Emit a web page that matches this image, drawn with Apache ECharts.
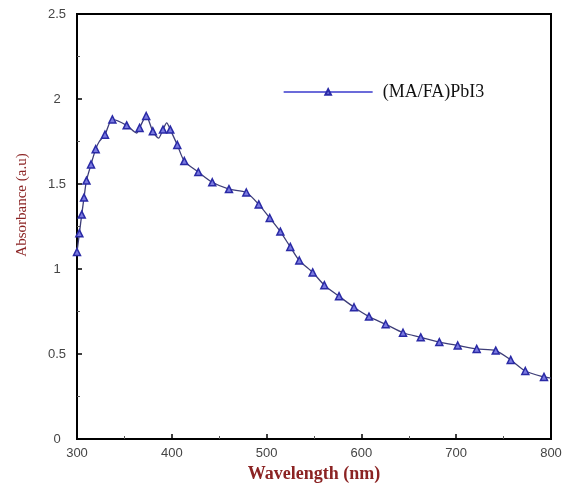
<!DOCTYPE html>
<html>
<head>
<meta charset="utf-8">
<script src="https://cdn.jsdelivr.net/npm/echarts@6/dist/echarts.min.js"></script>
<style>html,body{margin:0;padding:0;background:#fff;}#c{width:570px;height:484px;}</style>
</head>
<body>
<div id="c"></div>
<script>
// Marked data points (wavelength nm, absorbance a.u.)
var markWl = [300, 302.5, 305, 307.4, 310, 314.8, 319.7, 329.5, 337.3, 352.4, 366, 373, 380, 390.7, 398.4, 405.8, 413.2, 428, 442.7, 460.3, 478.6, 491.7, 503.3, 514.5, 525, 534.5, 548.6, 560.9, 576.4, 592.2, 608, 625.6, 643.9, 662.6, 682.2, 701.6, 721.6, 741.7, 757.5, 772.9, 792.6];
var markAbs = [1.10, 1.21, 1.32, 1.42, 1.52, 1.615, 1.705, 1.79, 1.88, 1.845, 1.83, 1.90, 1.81, 1.82, 1.82, 1.73, 1.635, 1.57, 1.51, 1.47, 1.45, 1.38, 1.30, 1.22, 1.13, 1.05, 0.98, 0.905, 0.84, 0.775, 0.72, 0.675, 0.625, 0.598, 0.57, 0.55, 0.53, 0.52, 0.465, 0.40, 0.365];
// Curve points between markers (no marker drawn)
var curveWl = [323.5, 362.9, 386, 394.6, 800];
var curveAbs = [1.75, 1.80, 1.77, 1.86, 0.358];
var seriesName = '(MA/FA)PbI3';
var xTitle = 'Wavelength (nm)';
var yTitle = 'Absorbance (a.u)';
var yTickLabels = ['0', '0.5', '1', '1.5', '2', '2.5'];
var xTickLabels = ['300', '400', '500', '600', '700', '800'];

var pts = [];
markWl.forEach(function (w, i) { pts.push({ value: [w, markAbs[i]] }); });
curveWl.forEach(function (w, i) { pts.push({ value: [w, curveAbs[i]], symbol: 'none' }); });
pts.sort(function (a, b) { return a.value[0] - b.value[0]; });

var chart = echarts.init(document.getElementById('c'), null, { renderer: 'canvas' });
chart.setOption({
  animation: false,
  backgroundColor: '#fff',
  grid: { left: 77, right: 19, top: 14, bottom: 45, containLabel: false, outerBoundsMode: 'none',
          show: true, borderColor: '#000', borderWidth: 2, backgroundColor: 'transparent' },
  legend: {
    left: 278, top: 78,
    itemWidth: 89, itemHeight: 7,
    data: [{ name: seriesName, lineStyle: { color: '#3a3acc', width: 1.3 } }],
    textStyle: { fontFamily: 'Liberation Serif', fontSize: 18, color: '#111', padding: [0, 0, 0, 5] }
  },
  graphic: [{
    type: 'text', x: 22, y: 205, rotation: Math.PI / 2,
    style: { text: yTitle, fontFamily: 'Liberation Serif', fontSize: 15, fill: '#8b2323', align: 'center', verticalAlign: 'middle' }
  }],
  xAxis: {
    type: 'value', min: 300, max: 800, interval: 100,
    name: xTitle, nameLocation: 'middle', nameGap: 22,
    nameTextStyle: { fontFamily: 'Liberation Serif', fontSize: 18, fontWeight: 'bold', color: '#8b2323' },
    axisLine: { show: true, lineStyle: { color: '#000', width: 2 } },
    axisTick: { show: true, inside: true, length: 5, lineStyle: { color: '#000', width: 1.5 } },
    minorTick: { show: true, splitNumber: 2, length: 3, lineStyle: { color: '#555', width: 1 } },
    splitLine: { show: false },
    axisLabel: {
      margin: 8, fontFamily: 'Liberation Sans', fontSize: 13, color: '#444',
      formatter: function (v) { var i = Math.round((v - 300) / 100); return xTickLabels[i] || ''; }
    }
  },
  yAxis: {
    type: 'value', min: 0, max: 2.5, interval: 0.5,
    axisLine: { show: true, lineStyle: { color: '#000', width: 2 } },
    axisTick: { show: true, inside: true, length: 5, lineStyle: { color: '#000', width: 1.5 } },
    minorTick: { show: true, splitNumber: 2, length: 3, lineStyle: { color: '#555', width: 1 } },
    splitLine: { show: false },
    axisLabel: {
      margin: 20, align: 'center', fontFamily: 'Liberation Sans', fontSize: 13, color: '#444',
      formatter: function (v) { var i = Math.round(v / 0.5); return yTickLabels[i] || ''; }
    }
  },
  series: [{
    name: seriesName,
    type: 'line',
    data: pts,
    smooth: 0.25,
    symbol: 'triangle',
    symbolSize: 7,
    showAllSymbol: true,
    lineStyle: { color: '#3e3e78', width: 1.3 },
    itemStyle: { color: '#7a7ae0', borderColor: '#2a2aa6', borderWidth: 1.5 },
    emphasis: { disabled: true }
  }]
});
</script>
</body>
</html>
